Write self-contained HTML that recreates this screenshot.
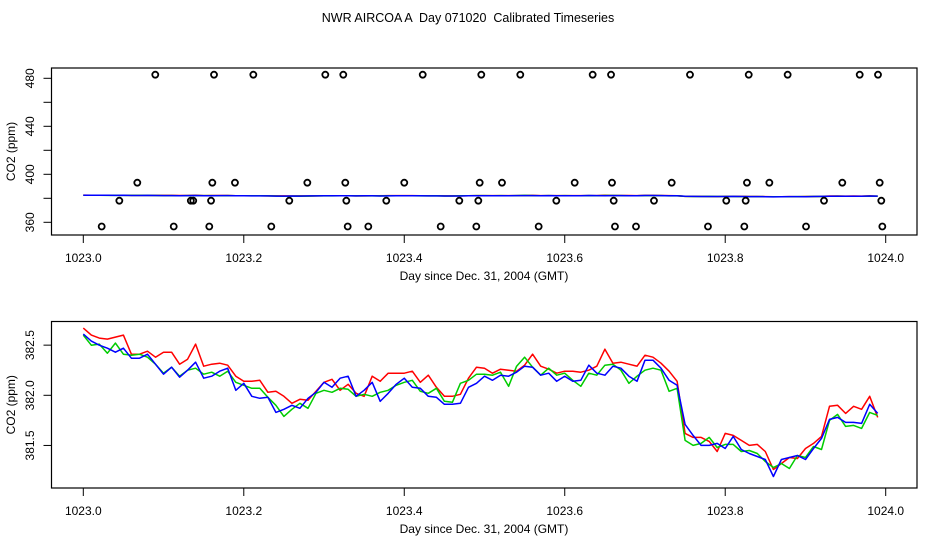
<!DOCTYPE html>
<html><head><meta charset="utf-8"><style>
body{margin:0;background:#fff;}
svg{display:block;font-family:"Liberation Sans",sans-serif;}
text{white-space:pre;}
</style></head><body>
<svg id="chart" width="936" height="540" viewBox="0 0 936 540" xmlns="http://www.w3.org/2000/svg">
<rect width="936" height="540" fill="#fff"/>
<text x="468" y="22" font-size="12.5" text-anchor="middle" xml:space="preserve">NWR AIRCOA A  Day 071020  Calibrated Timeseries</text>
<g id="top"></g>
<g id="bot"></g>
</svg>
<script>
// ---- data ----
const times = [0.00,0.01,0.02,0.03,0.04,0.05,0.06,0.07,0.08,0.09,0.10,0.11,0.12,0.13,0.14,0.15,0.16,0.17,0.18,0.19,0.20,0.21,0.22,0.23,0.24,0.25,
0.26,0.27,0.28,0.29,0.30,0.31,0.32,0.33,0.34,0.35,0.36,0.37,0.38,0.39,0.40,0.41,0.42,0.43,0.44,0.45,0.46,0.47,0.48,0.49,0.50,0.51,
0.52,0.53,0.54,0.55,0.56,0.57,0.58,0.59,0.60,0.61,0.62,0.63,0.64,0.65,0.66,0.67,0.68,0.69,0.70,0.71,0.72,0.73,0.74,0.75,0.76,
0.77,0.78,0.79,0.80,0.81,0.82,0.83,0.84,0.85,0.86,0.87,0.88,0.89,0.90,0.91,0.92,0.93,0.94,0.95,0.96,0.97,0.98,0.99];
const redSeries = [382.67,382.60,382.57,382.56,382.58,382.60,382.41,382.41,382.44,382.38,382.43,382.43,382.31,382.36,382.51,382.29,382.31,382.32,382.30,382.19,382.14,382.14,382.15,382.03,382.04,381.99,
381.92,381.96,381.95,382.04,382.13,382.16,382.05,382.11,382.02,381.99,382.19,382.14,382.22,382.22,382.22,382.24,382.13,382.20,382.08,381.99,381.99,382.01,382.17,382.28,382.27,382.22,
382.26,382.25,382.24,382.30,382.41,382.29,382.26,382.22,382.24,382.24,382.23,382.25,382.29,382.46,382.32,382.33,382.31,382.29,382.40,382.38,382.32,382.24,382.14,381.62,381.58,
381.58,381.54,381.44,381.62,381.60,381.55,381.50,381.51,381.44,381.26,381.32,381.38,381.37,381.47,381.52,381.59,381.89,381.90,381.82,381.89,381.86,381.99,381.78];
const greenSeries = [382.60,382.50,382.51,382.42,382.52,382.41,382.40,382.41,382.38,382.31,382.22,382.28,382.19,382.25,382.27,382.21,382.23,382.19,382.24,382.13,382.10,382.07,382.07,381.98,381.90,381.79,
381.86,381.92,381.87,382.02,382.05,382.03,382.07,382.06,381.99,382.01,381.99,382.03,382.05,382.10,382.13,382.15,382.04,382.02,382.07,381.94,381.93,382.12,382.15,382.21,382.21,382.20,
382.23,382.09,382.29,382.38,382.28,382.20,382.27,382.20,382.22,382.15,382.09,382.22,382.20,382.30,382.31,382.25,382.12,382.19,382.25,382.27,382.25,382.04,382.07,381.55,381.50,
381.52,381.58,381.48,381.51,381.51,381.44,381.45,381.42,381.34,381.28,381.32,381.27,381.40,381.38,381.49,381.46,381.75,381.81,381.69,381.70,381.67,381.83,381.80];
const blueSeries = [382.61,382.54,382.50,382.47,382.43,382.47,382.37,382.37,382.41,382.31,382.21,382.28,382.18,382.25,382.33,382.17,382.19,382.24,382.27,382.05,382.12,381.99,381.97,381.98,381.83,381.86,
381.90,381.87,381.97,382.03,382.13,382.08,382.17,382.19,381.99,382.05,382.13,381.94,382.02,382.11,382.17,382.08,382.07,381.99,381.98,381.91,381.91,381.92,382.08,382.12,382.19,382.15,
382.20,382.19,382.23,382.29,382.28,382.20,382.22,382.14,382.19,382.14,382.15,382.30,382.22,382.20,382.29,382.27,382.19,382.14,382.35,382.35,382.27,382.15,382.10,381.71,381.60,
381.50,381.50,381.52,381.47,381.59,381.46,381.42,381.39,381.36,381.19,381.36,381.38,381.40,381.36,381.47,381.57,381.76,381.78,381.73,381.73,381.72,381.91,381.82];
const flagTimes = [0.0897,0.1629,0.2119,0.3016,0.324,0.423,0.496,0.5446,0.6348,0.6577,0.7561,0.8293,0.8778,0.9676,0.9904,
0.0673,0.1608,0.189,0.2792,0.3265,0.4,0.494,0.5218,0.6124,0.6589,0.7333,0.8271,0.855,0.9459,0.9925,
0.0449,0.134,0.137,0.1592,0.2567,0.3278,0.3776,0.4686,0.4923,0.5895,0.661,0.7112,0.8013,0.8255,0.9231,0.9945,
0.0229,0.1127,0.157,0.2343,0.3295,0.3552,0.4454,0.4898,0.5675,0.6626,0.6888,0.7785,0.8238,0.9007,0.9958];
const flagValues = [483,483,483,483,483,483,483,483,483,483,483,483,483,483,483,
393,393,393,393,393,393,393,393,393,393,393,393,393,393,393,
378,378,378,378,378,378,378,378,378,378,378,378,378,378,378,378,
356.5,356.5,356.5,356.5,356.5,356.5,356.5,356.5,356.5,356.5,356.5,356.5,356.5,356.5,356.5];
const xTicks = [1023.0,1023.2,1023.4,1023.6,1023.8,1024.0];
const topYTicks = [360,380,400,420,440,460,480];
const topYLabels = [360,400,440,480];
const botYTicks = [381.5,382.0,382.5];

const NS = "http://www.w3.org/2000/svg";
const X0 = 83.3, XS = 802.4;
const xs = d => X0 + (d - 1023) * XS;
const yTop = v => 222.3 - (v - 360) * 1.2;
const yBot = v => 395.3 - (v - 382) * 100.3;
function mk(parent, tag, attrs, text){
  const e = document.createElementNS(NS, tag);
  for (const k in attrs) e.setAttribute(k, attrs[k]);
  if (text !== undefined) e.textContent = text;
  parent.appendChild(e); return e;
}
function panel(g, name, box, ys, yTicks, yLabels, fmt, showFlags){
  const r = mk(g, 'rect', {x:box.l, y:box.t, width:box.r-box.l, height:box.b-box.t, fill:'none', stroke:'#000', 'stroke-width':1.2});
  
  
  xTicks.forEach(t => {
    const x = xs(t);
    const l = mk(g, 'line', {x1:x, x2:x, y1:box.b, y2:box.b+8, stroke:'#000'});
    
    
    const tx = mk(g, 'text', {x:x, y:box.b+27, 'font-size':12, 'text-anchor':'middle'}, t.toFixed(1));
    
    
  });
  yTicks.forEach(t => {
    const y = ys(t);
    const l = mk(g, 'line', {x1:box.l-8, x2:box.l, y1:y, y2:y, stroke:'#000'});
    
    
  });
  yLabels.forEach(t => {
    const y = ys(t);
    const tx = mk(g, 'text', {x:0, y:0, 'font-size':12, 'text-anchor':'middle', transform:`translate(34,${y}) rotate(-90)`}, fmt(t));
    
    
  });
  const xl = mk(g, 'text', {x:484, y:box.b+45, 'font-size':12, 'text-anchor':'middle'}, 'Day since Dec. 31, 2004 (GMT)');
  
  
  const yl = mk(g, 'text', {x:0, y:0, 'font-size':12, 'text-anchor':'middle', transform:`translate(15,${(box.t+box.b)/2}) rotate(-90)`}, 'CO2 (ppm)');
  
  
  [['#ff0000', redSeries, 'red'], ['#00cc00', greenSeries, 'green'], ['#0000ff', blueSeries, 'blue']].forEach(([c, vals, nm]) => {
    const pts = vals.map((v,i) => xs(1023 + times[i]).toFixed(1) + ',' + ys(v).toFixed(1)).join(' ');
    const p = mk(g, 'polyline', {points:pts, fill:'none', stroke:c, 'stroke-width':1.5, 'stroke-linejoin':'round'});
    
    
  });
  if (showFlags){
    flagTimes.forEach((t,i) => {
      const c = mk(g, 'circle', {cx:xs(1023+t), cy:ys(flagValues[i]), r:3, fill:'none', stroke:'#000', 'stroke-width':1.8});
      
      
    });
  }
}
panel(document.getElementById('top'), 'top', {l:51.5, r:917, t:68, b:235}, yTop, topYTicks, topYLabels, v => String(v), true);
panel(document.getElementById('bot'), 'bottom', {l:51.5, r:917, t:321.5, b:488}, yBot, botYTicks, botYTicks, v => v.toFixed(1), false);
</script>
</body></html>
